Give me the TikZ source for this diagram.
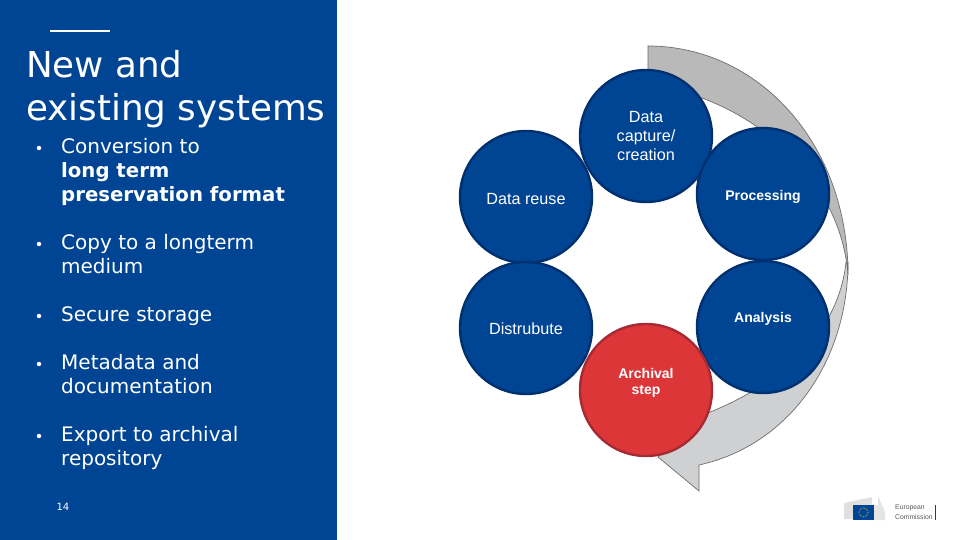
\documentclass[tikz,border=0pt]{standalone}
\usepackage{fontspec}
\setmainfont{DejaVu Sans}
\newfontfamily\labelfont{Liberation Sans}
\definecolor{ecblue}{HTML}{004494}
\definecolor{ecrim}{HTML}{00306E}
\definecolor{ecred}{HTML}{DC3639}
\definecolor{ecredrim}{HTML}{A52A33}
\definecolor{bandtop}{HTML}{B9B9B9}
\definecolor{bandlow}{HTML}{CFD0D2}
\definecolor{bandedge}{HTML}{6E6E6E}
\tikzset{
  bubble/.style={circle,draw=ecrim,fill=ecblue,line width=2.4pt,minimum size=132pt,inner sep=0pt},
  redbubble/.style={bubble,draw=ecredrim,fill=ecred},
  bigcap/.style={text=white,font=\labelfont\fontsize{16.2}{19}\selectfont,align=center,inner sep=0pt},
  smallcap/.style={text=white,font=\labelfont\bfseries\fontsize{14}{16}\selectfont,align=center,inner sep=0pt},
  titletext/.style={text=white,anchor=north west,inner sep=0pt,align=left,font=\fontsize{35.7}{43}\selectfont},
  bodytext/.style={text=white,anchor=north west,inner sep=0pt,align=left,font=\fontsize{20}{24}\selectfont},
  bulletmark/.style={circle,fill=white,inner sep=0pt,minimum size=4.5pt},
  band/.style={draw=bandedge,line width=0.7pt,line join=miter},
}
\newcommand{\boldline}[1]{{\fontsize{19.7}{24}\selectfont\bfseries #1}}
\begin{document}
\begin{tikzpicture}[x=1pt,y=-1pt]
\useasboundingbox (0,0) rectangle (960,540);
\fill[white] (0,0) rectangle (960,540);
\fill[ecblue] (0,0) rectangle (337,540);
\draw[white,line width=1.5pt] (50,31) -- (110,31);
\node[titletext] (title) at (26,50) {New and\\existing systems};
\node[bulletmark] (b1) at (39,148) {};
\node[bodytext] (t1) at (61,138) {Conversion to\\\boldline{long term}\\\boldline{preservation format}};
\node[bulletmark] (b2) at (39,244) {};
\node[bodytext] (t2) at (61,234) {Copy to a longterm\\medium};
\node[bulletmark] (b3) at (39,316) {};
\node[bodytext] (t3) at (61,306) {Secure storage};
\node[bulletmark] (b4) at (39,364) {};
\node[bodytext] (t4) at (61,354) {Metadata and\\documentation};
\node[bulletmark] (b5) at (39,436) {};
\node[bodytext] (t5) at (61,426) {Export to archival\\repository};
\node[text=white,font=\fontsize{10}{12}\selectfont,inner sep=0pt] (pagenum) at (63,507) {14};
% arrow bands
\draw[band,fill=bandlow] (848,262) .. controls (848,360) and (790,445) .. (699,465)
  -- (699,491) -- (658,457) -- (700,416) .. controls (770,390) and (838,340) .. (846,262) -- cycle;
\draw[band,fill=bandtop] (648,46) .. controls (758,46) and (848,143) .. (848,275)
  .. controls (840,170) and (740,95) .. (648,85) -- cycle;
% circles
\node[bubble] (reuse) at (526,197) {};
\node[bubble] (capture) at (646,136) {};
\node[bubble] (processing) at (763,194) {};
\node[bubble] (analysis) at (763,327) {};
\node[bubble] (distribute) at (526,328) {};
\node[redbubble] (archival) at (646,390) {};
\node[bigcap] (reusetext) at (526,199) {Data reuse};
\node[bigcap] (capturetext) at (646,136) {Data\\capture/\\creation};
\node[smallcap] (processingtext) at (763,196.5) {Processing};
\node[smallcap] (analysistext) at (763,318.5) {Analysis};
\node[bigcap] (distributetext) at (526,329) {Distrubute};
\node[smallcap] (archivaltext) at (646,382.5) {Archival\\step};
% logo
\fill[black!12] (844,503) -- (872,497) -- (872,505) -- (853,505) -- (853,519) -- (844,519) -- cycle;
\fill[black!10] (878,496) -- (885,512) -- (885,520) -- (874,520) -- (874,505) -- (878,505) -- cycle;
\fill[ecblue] (853,505) rectangle (874,520);
\draw[yellow!80!black,line width=0.7pt,densely dotted] (863.5,512.5) circle (4.5pt);
\node[text=black!65,font=\labelfont\fontsize{6.8}{10.5}\selectfont,align=left,inner sep=0pt,anchor=west] (logotext) at (895,512) {European\\Commission};
\fill[ecblue] (934.5,505) rectangle (935.8,520);
\end{tikzpicture}
\end{document}
